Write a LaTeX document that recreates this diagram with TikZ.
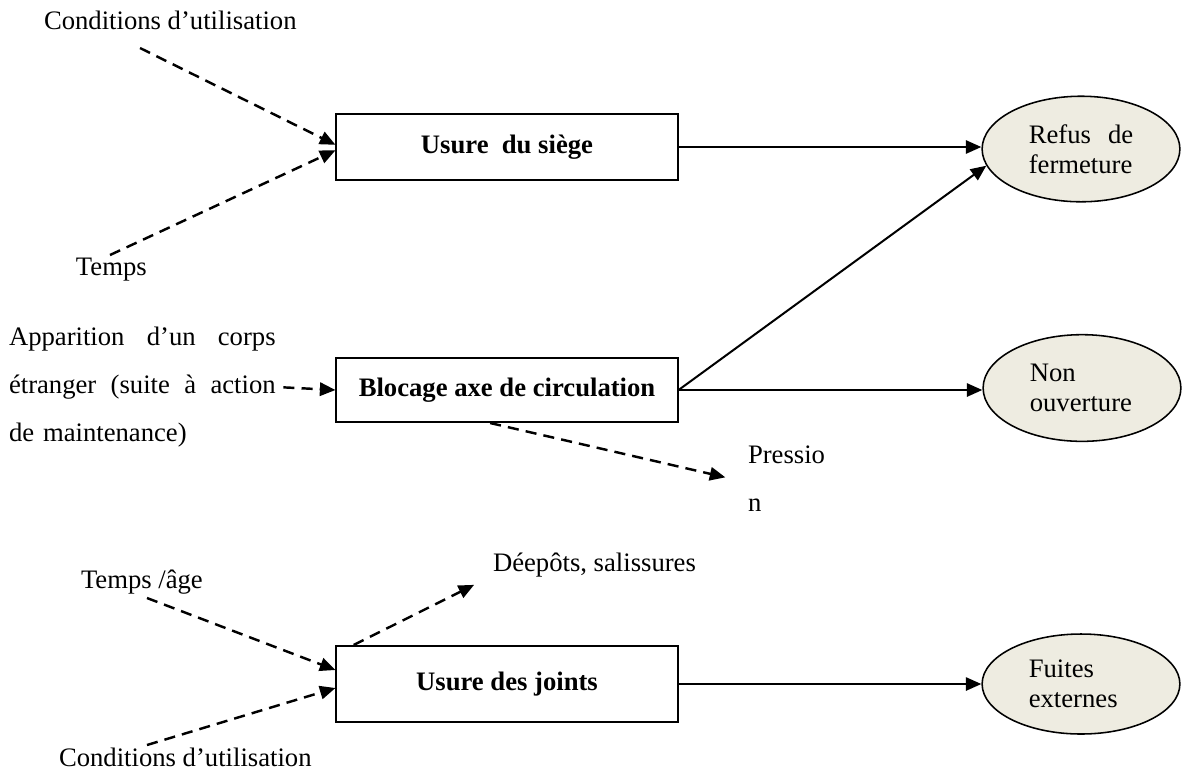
\documentclass[tikz,border=0pt]{standalone}
\usepackage{fontspec}
\setmainfont{Liberation Serif}
\usetikzlibrary{arrows.meta,shapes.geometric}
\definecolor{effectfill}{HTML}{EEECE1}

\begin{document}
\begin{tikzpicture}[x=0.45pt, y=-0.45pt, line width=0.9pt,
  every node/.style={font=\fontsize{12}{21.6}\selectfont},
  txt/.style={anchor=west, inner sep=0pt, align=left},
  cause/.style={draw, rectangle, minimum width=153.5pt, font=\bfseries\fontsize{12}{14}\selectfont},
  effect/.style={draw, ellipse, fill=effectfill, line width=0.7pt, minimum width=89pt,
    minimum height=47.5pt, inner sep=0pt, text width=47pt, align=left,
    font=\fontsize{12}{13.5}\selectfont},
  factor/.style={line width=1.1pt, dash pattern=on 5pt off 3.2pt, -{Triangle[length=7pt,width=6pt]}},
  link/.style={-{Triangle[length=7pt,width=6pt]}}]
  \useasboundingbox (0,0) rectangle (1182,774);

  \node[txt] (condA) at (43,20) {Conditions d’utilisation};
  \node[txt] (tempsA) at (75,270) {Temps};
  \node[txt, text width=120pt] (corps) at (8,387)
    {Apparition\hfill d’un\hfill corps\\ étranger\hfill (suite\hfill à\hfill action\\ de maintenance)};
  \node[txt] (pression) at (747,479) {Pressio\\n};
  \node[txt] (depots) at (492,565) {Déepôts, salissures};
  \node[txt] (tempsB) at (80,582) {Temps /âge};
  \node[txt] (condB) at (58,757) {Conditions d’utilisation};

  \node[cause, minimum height=29.7pt] (siege) at (507,147) {Usure~ du siège};
  \node[cause, minimum height=28.8pt] (blocage) at (507,390) {Blocage axe de circulation};
  \node[cause, minimum height=34.2pt] (joints) at (507,684) {Usure des joints};

  \node[effect] (refus) at (1081,149) {Refus\hfill de\\fermeture};
  \node[effect, minimum height=48pt] (nonouv) at (1082,388) {Non\\ouverture};
  \node[effect, minimum height=45pt] (fuites) at (1081,684) {Fuites\\externes};

  \coordinate (fromcondA) at (140,48);
  \coordinate (fromtempsA) at (110,255);
  \coordinate (fromtempsB) at (147,598);
  \coordinate (fromcondB) at (147,745);

  \draw[factor] (fromcondA) -- ([yshift=1pt]siege.west);
  \draw[factor] (fromtempsA) -- ([yshift=-1.5pt]siege.west);
  \draw[factor, shorten <=3pt] (corps.east) -- (blocage.west);
  \draw[factor, shorten >=10pt] ([xshift=-7.6pt]blocage.south) -- ([yshift=-1.5pt]pression.west);
  \draw[factor, shorten >=9pt] ([xshift=-69pt]joints.north) -- ([yshift=1pt]depots.south west);
  \draw[factor] (fromtempsB) -- ([yshift=6.3pt]joints.west);
  \draw[factor] (fromcondB) -- ([yshift=-1.8pt]joints.west);

  \draw[link] (siege.east) -- (siege.east -| refus.west);
  \draw[link] (blocage.east) -- (refus.190);
  \draw[link] (blocage.east) -- (blocage.east -| nonouv.west);
  \draw[link] (joints.east) -- (joints.east -| fuites.west);
\end{tikzpicture}
\end{document}
